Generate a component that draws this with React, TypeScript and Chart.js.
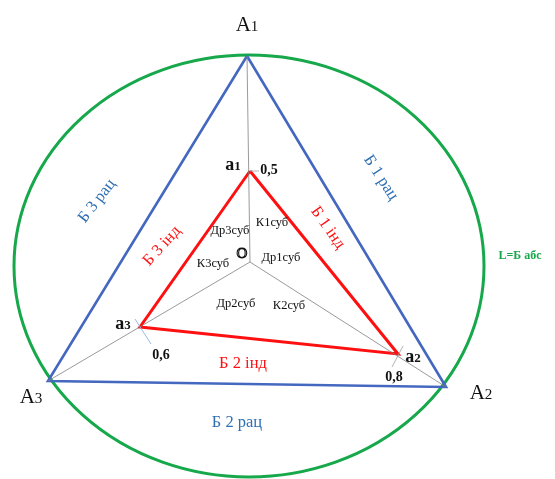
import React, { useEffect, useRef } from "react";
import { Chart, registerables } from "chart.js";

Chart.register(...registerables);

// Diagram coordinate system (x right, y down)
const outerLabels = ["A1", "A2", "A3"];
const outerX = [247, 446, 48];
const outerY = [56, 387, 381];

const innerLabels = ["а1", "а2", "а3"];
const innerX = [250, 398, 140];
const innerY = [171, 354, 327];
const innerValues = ["0,5", "0,8", "0,6"];

const centerX = 250;
const centerY = 262;

const ellipseCenter = { x: 249, y: 266 };
const ellipseRadii = { rx: 235, ry: 211 };

const subjectLabels = ["К1суб", "Др3суб", "Др1суб", "К3суб", "Др2суб", "К2суб"];
const subjectX = [272, 230, 281, 213, 236, 289];
const subjectY = [222, 230, 257, 263, 303, 305];

const sideRatLabels = ["Б 1 рац", "Б 2 рац", "Б 3 рац"];
const sideIndLabels = ["Б 1 інд", "Б 2 інд", "Б 3 інд"];
const absLabel = "L=Б абс";

const BLUE = "#4468c0";
const BLUE_TEXT = "#2f6fb3";
const RED = "#ff1010";
const GREEN = "#16a84a";

type Txt = {
  text: string;
  sub?: string;
  x: number;
  y: number;
  size: number;
  color: string;
  rot?: number;
  bold?: boolean;
  outline?: boolean;
};

const texts: Txt[] = [
  { text: "A", sub: "1", x: 247, y: 24, size: 21, color: "#111" },
  { text: "A", sub: "2", x: 481, y: 392, size: 21, color: "#111" },
  { text: "A", sub: "3", x: 31, y: 396, size: 21, color: "#111" },
  { text: "a", sub: "1", x: 233, y: 164, size: 18, color: "#111", bold: true },
  { text: "a", sub: "2", x: 413, y: 356, size: 18, color: "#111", bold: true },
  { text: "a", sub: "3", x: 123, y: 323, size: 18, color: "#111", bold: true },
  { text: innerValues[0], x: 269, y: 169, size: 14, color: "#111", bold: true },
  { text: innerValues[1], x: 394, y: 376, size: 14, color: "#111", bold: true },
  { text: innerValues[2], x: 161, y: 354, size: 14, color: "#111", bold: true },
  { text: sideRatLabels[0], x: 382, y: 177, size: 16.5, color: BLUE_TEXT, rot: 57 },
  { text: sideRatLabels[1], x: 237, y: 421, size: 16.5, color: BLUE_TEXT },
  { text: sideRatLabels[2], x: 96, y: 200, size: 16.5, color: BLUE_TEXT, rot: -52 },
  { text: sideIndLabels[0], x: 329, y: 227, size: 16.5, color: RED, rot: 55 },
  { text: sideIndLabels[1], x: 243, y: 362, size: 16.5, color: RED },
  { text: sideIndLabels[2], x: 161, y: 245, size: 16.5, color: RED, rot: -48 },
  { text: absLabel, x: 520, y: 255, size: 12, color: GREEN, bold: true },
  { text: "O", x: 242, y: 253, size: 15, color: "#111", outline: true },
];
subjectLabels.forEach((s, i) =>
  texts.push({ text: s, x: subjectX[i], y: subjectY[i], size: 12.5, color: "#111" })
);

const FONT = '"Liberation Serif", "DejaVu Serif", serif';

const drawPlugin = {
  id: "diagramDraw",
  beforeDatasetsDraw(chart: any) {
    const { ctx, scales } = chart;
    const sx = scales.x;
    const sy = scales.y;
    const cx = sx.getPixelForValue(ellipseCenter.x);
    const cy = sy.getPixelForValue(ellipseCenter.y);
    const rx = Math.abs(sx.getPixelForValue(ellipseCenter.x + ellipseRadii.rx) - cx);
    const ry = Math.abs(sy.getPixelForValue(ellipseCenter.y + ellipseRadii.ry) - cy);
    ctx.save();
    ctx.beginPath();
    ctx.ellipse(cx, cy, rx, ry, 0, 0, Math.PI * 2);
    ctx.strokeStyle = GREEN;
    ctx.lineWidth = 3;
    ctx.stroke();
    ctx.restore();
  },
  afterDatasetsDraw(chart: any) {
    const { ctx, scales } = chart;
    const sx = scales.x;
    const sy = scales.y;
    texts.forEach((t) => {
      const px = sx.getPixelForValue(t.x);
      const py = sy.getPixelForValue(t.y);
      ctx.save();
      ctx.translate(px, py);
      if (t.rot) ctx.rotate((t.rot * Math.PI) / 180);
      ctx.fillStyle = t.color;
      ctx.textBaseline = "alphabetic";
      const weight = t.bold ? "bold " : "";
      ctx.font = `${weight}${t.size}px ${FONT}`;
      const mainW = ctx.measureText(t.text).width;
      let subW = 0;
      const subSize = t.size * 0.72;
      if (t.sub) {
        ctx.font = `${weight}${subSize}px ${FONT}`;
        subW = ctx.measureText(t.sub).width;
      }
      const total = mainW + subW;
      const baseY = t.size * 0.35;
      ctx.font = `${weight}${t.size}px ${FONT}`;
      ctx.textAlign = "left";
      if (t.outline) {
        ctx.strokeStyle = t.color;
        ctx.lineWidth = 1.1;
        ctx.strokeText(t.text, -total / 2, baseY);
      } else {
        ctx.fillText(t.text, -total / 2, baseY);
      }
      if (t.sub) {
        ctx.font = `${weight}${subSize}px ${FONT}`;
        ctx.fillText(t.sub, -total / 2 + mainW, baseY);
      }
      ctx.restore();
    });
  },
};

function pts(xs: number[], ys: number[]) {
  return xs.map((x, i) => ({ x, y: ys[i] }));
}

export default function App() {
  const ref = useRef<HTMLCanvasElement>(null);
  useEffect(() => {
    if (!ref.current) return;
    const outer = pts(outerX, outerY);
    const inner = pts(innerX, innerY);
    const center = { x: centerX, y: centerY };
    const line = (data: any[], color: string, width: number) => ({
      type: "scatter" as const,
      data,
      showLine: true,
      borderColor: color,
      backgroundColor: color,
      borderWidth: width,
      pointRadius: 0,
      fill: false,
      tension: 0,
    });
    const datasets: any[] = [
      ...outer.map((p) => line([center, p], "#808080", 0.8)),
      // leader marks at inner points
      line([inner[0], { x: inner[0].x + 9, y: inner[0].y }], "#a0a0a0", 0.8),
      line([{ x: inner[1].x + 5, y: inner[1].y - 8 }, { x: inner[1].x - 6, y: inner[1].y + 13 }], "#a0a0a0", 0.8),
      line([{ x: inner[2].x - 5, y: inner[2].y - 8 }, { x: inner[2].x + 11, y: inner[2].y + 17 }], "#8fb4dc", 0.9),
      line([...outer, outer[0]], BLUE, 2.6),
      line([...inner, inner[0]], RED, 3),
    ];
    const chart = new Chart(ref.current, {
      type: "scatter",
      data: { datasets },
      options: {
        animation: false,
        responsive: true,
        maintainAspectRatio: false,
        layout: { padding: 0 },
        scales: {
          x: { type: "linear", min: 0, max: 555, display: false },
          y: { type: "linear", min: 0, max: 479, reverse: true, display: false },
        },
        plugins: { legend: { display: false }, tooltip: { enabled: false } },
        events: [],
      },
      plugins: [drawPlugin],
    });
    return () => chart.destroy();
  }, []);
  return (
    <div style={{ position: "absolute", left: 0, top: 0, width: 555, height: 479, background: "#fff" }}>
      <canvas ref={ref} />
    </div>
  );
}
